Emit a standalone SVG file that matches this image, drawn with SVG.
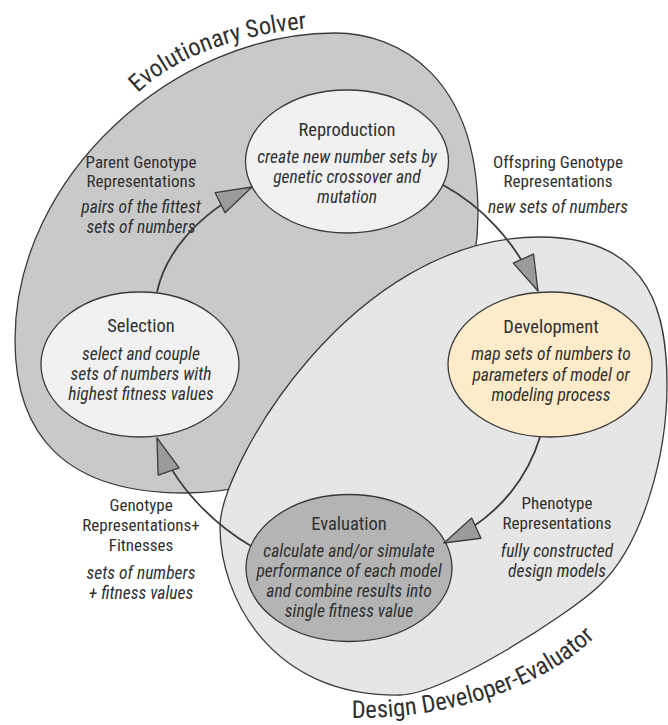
<svg xmlns="http://www.w3.org/2000/svg" width="668" height="725" viewBox="0 0 668 725">
  <defs>
    <style>
      .zone { stroke: #3a3a3a; stroke-width: 1.3; }
      .node { stroke: #3a3a3a; stroke-width: 1.3; }
      .txt { font-family: "Liberation Sans Narrow", "Arial Narrow", "Roboto Condensed", "DejaVu Sans Condensed", sans-serif; fill: #303030; text-anchor: middle; }
      .ttl { font-size: 18.5px; }
      .it { font-size: 17.5px; font-style: italic; }
      .lb { font-size: 17px; }
      .big { font-size: 24.5px; text-anchor: start; }
      .flow { fill: none; stroke: #3d3d3d; stroke-width: 1.8; marker-end: url(#head); }
    </style>
    <marker id="head" markerUnits="userSpaceOnUse" markerWidth="40" markerHeight="30" viewBox="-34 -12 36 24" refX="0" refY="0" orient="auto">
      <path d="M0,0 L-32,-10 L-32,10 Z" fill="#9b9b9b" stroke="#3d3d3d" stroke-width="1.2" stroke-linejoin="round"/>
    </marker>
    <path id="solverArc" d="M138,93 C176,57 238,32 328,27"/>
    <path id="evalArc" d="M352,718 C430,719 540,698 606,626"/>
  </defs>

  <rect width="668" height="725" fill="#ffffff"/>

  <!-- outer zones -->
  <g id="evolutionary-solver">
    <path class="zone" fill="#c9c9c9" d="M335,33 C398,33 478,76 478,215 C478,365 335,493 185,493 C65,493 15,435 15,340 C15,176 175,33 335,33 Z"/>
    <text class="txt big"><textPath href="#solverArc" textLength="184" lengthAdjust="spacing">Evolutionary Solver</textPath></text>
  </g>
  <g id="design-developer-evaluator">
    <path class="zone" fill="#e6e6e6" d="M540,237 C655,237 667,320 667,385 C667,455 643,544 600,585 C570,614 445,694 400,695 C270,697 220,596 220,527 C220,467 350,237 540,237 Z"/>
    <text class="txt big"><textPath href="#evalArc" textLength="262" lengthAdjust="spacing">Design Developer-Evaluator</textPath></text>
  </g>

  <!-- process nodes -->
  <g id="reproduction">
    <ellipse class="node" cx="347" cy="161.5" rx="101.5" ry="71.5" fill="#f1f1f1"/>
    <text class="txt ttl" x="347" y="136">Reproduction</text>
    <text class="txt it" x="347" y="163">create new number sets by</text>
    <text class="txt it" x="347" y="183">genetic crossover and</text>
    <text class="txt it" x="347" y="203">mutation</text>
  </g>
  <g id="selection">
    <ellipse class="node" cx="140" cy="364.5" rx="99" ry="72.5" fill="#f1f1f1"/>
    <text class="txt ttl" x="141" y="332">Selection</text>
    <text class="txt it" x="141" y="360">select and couple</text>
    <text class="txt it" x="141" y="380">sets of numbers with</text>
    <text class="txt it" x="141" y="400">highest fitness values</text>
  </g>
  <g id="development">
    <ellipse class="node" cx="550" cy="364.5" rx="102" ry="72.5" fill="#fdebc9"/>
    <text class="txt ttl" x="551" y="333">Development</text>
    <text class="txt it" x="551" y="360">map sets of numbers to</text>
    <text class="txt it" x="551" y="381">parameters of model or</text>
    <text class="txt it" x="551" y="401">modeling process</text>
  </g>
  <g id="evaluation">
    <ellipse class="node" cx="349" cy="568" rx="103" ry="73.5" fill="#b4b4b4"/>
    <text class="txt ttl" x="349" y="530">Evaluation</text>
    <text class="txt it" x="349" y="557">calculate and/or simulate</text>
    <text class="txt it" x="349" y="577">performance of each model</text>
    <text class="txt it" x="349" y="597">and combine results into</text>
    <text class="txt it" x="349" y="617">single fitness value</text>
  </g>

  <!-- flow connectors -->
  <g id="connectors">
    <path class="flow" d="M157,292 C165,255 195,215 252,187"/>
    <path class="flow" d="M443,185 C480,205 515,240 538,291"/>
    <path class="flow" d="M540,437 C530,470 505,515 444,543"/>
    <path class="flow" d="M251,546 C220,528 175,490 157,438"/>
  </g>

  <!-- connector labels -->
  <g id="label-parent">
    <text class="txt lb" x="141" y="168">Parent Genotype</text>
    <text class="txt lb" x="141" y="187">Representations</text>
    <text class="txt it" x="141" y="213">pairs of the fittest</text>
    <text class="txt it" x="141" y="233">sets of numbers</text>
  </g>
  <g id="label-offspring">
    <text class="txt lb" x="558" y="168">Offspring Genotype</text>
    <text class="txt lb" x="558" y="187">Representations</text>
    <text class="txt it" x="558" y="213">new sets of numbers</text>
  </g>
  <g id="label-phenotype">
    <text class="txt lb" x="557" y="509">Phenotype</text>
    <text class="txt lb" x="557" y="529">Representations</text>
    <text class="txt it" x="557" y="557">fully constructed</text>
    <text class="txt it" x="557" y="577">design models</text>
  </g>
  <g id="label-genotype">
    <text class="txt lb" x="141" y="511">Genotype</text>
    <text class="txt lb" x="141" y="531">Representations+</text>
    <text class="txt lb" x="141" y="551">Fitnesses</text>
    <text class="txt it" x="141" y="579">sets of numbers</text>
    <text class="txt it" x="141" y="599">+ fitness values</text>
  </g>
</svg>
